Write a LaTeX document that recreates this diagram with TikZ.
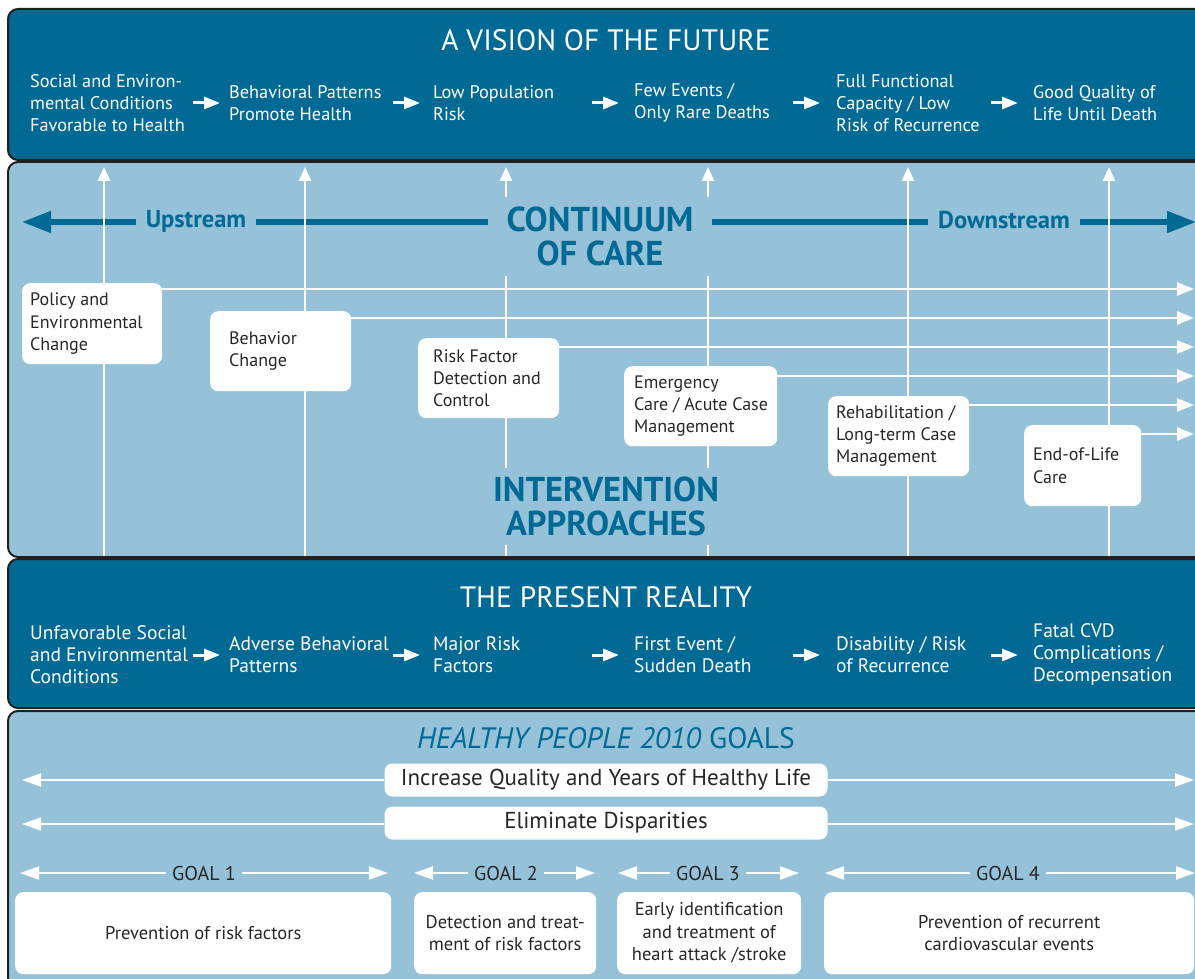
\documentclass[tikz,border=0pt]{standalone}
\usepackage{fontspec}
\setmainfont{PT Sans}
\usetikzlibrary{arrows.meta,positioning}

\definecolor{deepblue}{RGB}{0,105,148}
\definecolor{paleblue}{RGB}{150,194,217}
\definecolor{edgegray}{RGB}{35,31,32}
\definecolor{inkgray}{RGB}{40,38,38}

\tikzset{
  band/.style={draw=edgegray, line width=2pt, rounded corners=10pt},
  flowtxt/.style={anchor=west, inner sep=0pt, align=left, text=white, font=\fontsize{18.3}{22}\selectfont},
  flowarrow/.style={white, line width=3pt, -{Triangle[length=16pt,width=12pt]}},
  bandtitle/.style={text=white, inner sep=0pt, font=\fontsize{29.5}{32}\selectfont},
  riser/.style={white, line width=2.5pt, -{Triangle[length=14pt,width=12pt]}},
  lane/.style={white, line width=2.5pt, -{Triangle[length=17pt,width=13pt]}},
  card/.style={fill=white, rounded corners=8pt, anchor=north west, inner sep=0pt},
  cardtxt/.style={anchor=west, inner sep=0pt, align=left, text=inkgray, font=\fontsize{18}{22.2}\selectfont},
  bigblue/.style={text=deepblue, fill=paleblue, inner sep=0pt, align=center, font=\bfseries\fontsize{34.5}{34}\selectfont},
  streamtxt/.style={text=deepblue, fill=paleblue, inner xsep=10pt, inner ysep=4pt, font=\bfseries\fontsize{24.5}{26}\selectfont},
  goalbar/.style={fill=white, rounded corners=8pt, minimum width=443pt, minimum height=33pt, inner sep=0pt, text=inkgray, font=\fontsize{23}{26}\selectfont},
  goalline/.style={white, line width=2pt, -{Triangle[length=19pt,width=13pt]}},
  goaltag/.style={fill=paleblue, text=inkgray, inner xsep=6pt, inner ysep=2pt, font=\fontsize{20}{22}\selectfont},
  goalbox/.style={fill=white, rounded corners=8pt, anchor=north west, inner sep=0pt, minimum height=82pt, align=center, text=inkgray, font=\fontsize{18.5}{22.5}\selectfont},
}

\begin{document}
\begin{tikzpicture}[x=1pt, y=-1pt]
\useasboundingbox (0,0) rectangle (1195,979);
\clip (0,0) rectangle (1195,979);

% the four bands
\filldraw[band, fill=deepblue] (8,9) rectangle (1225,160);
\filldraw[band, fill=paleblue] (8,162) rectangle (1225,557);
\filldraw[band, fill=deepblue] (8,559) rectangle (1225,708);
\filldraw[band, fill=paleblue] (8,711) rectangle (1225,1010);

% vision of the future
\node[bandtitle] (vision) at (606,40) {A VISION OF THE FUTURE};
\node[flowtxt] (v1) at (30,103) {Social and Environ-\\mental Conditions\\Favorable to Health};
\node[flowtxt] (v2) at (229,103) {Behavioral Patterns\\Promote Health};
\node[flowtxt] (v3) at (433,103) {Low Population\\Risk};
\node[flowtxt] (v4) at (634,103) {Few Events /\\Only Rare Deaths};
\node[flowtxt] (v5) at (836,103) {Full Functional\\Capacity / Low\\Risk of Recurrence};
\node[flowtxt] (v6) at (1033,103) {Good Quality of\\Life Until Death};
\foreach \n/\s in {2/36,3/40,4/42,5/43,6/42}
  \draw[flowarrow] ([xshift=-\s pt]v\n.west) -- ([xshift=-\s pt+27pt]v\n.west);

% continuum of care
\coordinate (up) at (22,222);
\coordinate (down) at (1196,222);
\draw[deepblue, line width=5pt, {Triangle[length=29pt,width=21pt]}-{Triangle[length=29pt,width=21pt]}] (up) -- (down);

\foreach \x [count=\i] in {104,305,506,708,908,1109} {
  \coordinate (base\i) at (\x,556);
  \coordinate (peak\i) at (\x,167);
  \draw[riser] (base\i) -- (peak\i);
}

% intervention boxes
\node[card, minimum width=140pt, minimum height=81pt] (pol) at (22,283) {};
\node[card, minimum width=141pt, minimum height=80pt] (beh) at (210,311) {};
\node[card, minimum width=141pt, minimum height=80pt] (rfd) at (418,338) {};
\node[card, minimum width=153pt, minimum height=80pt] (emc) at (624,366) {};
\node[card, minimum width=141pt, minimum height=80pt] (reh) at (828,396) {};
\node[card, minimum width=117pt, minimum height=81pt] (eol) at (1024,425) {};
\node[cardtxt] (pol-t) at ([xshift=8pt]pol.west) {Policy and\\Environmental\\Change};
\node[cardtxt] (beh-t) at ([xshift=19pt]beh.west) {Behavior\\Change};
\node[cardtxt] (rfd-t) at ([xshift=15pt]rfd.west) {Risk Factor\\Detection and\\Control};
\node[cardtxt] (emc-t) at ([xshift=10pt]emc.west) {Emergency\\Care / Acute Case\\Management};
\node[cardtxt] (reh-t) at ([xshift=8pt]reh.west) {Rehabilitation /\\Long-term Case\\Management};
\node[cardtxt] (eol-t) at ([xshift=9pt]eol.west) {End-of-Life\\Care};

\foreach \n/\y in {pol/289,beh/318,rfd/347,emc/376,reh/405,eol/434} {
  \coordinate (out-\n) at (1194,\y);
  \draw[lane] (\n.east |- out-\n) -- (out-\n);
}

\node[bigblue, minimum width=224pt, minimum height=79pt] (coc) at (600,236.5) {CONTINUUM\\OF CARE};
\node[streamtxt] (ups) at (196,221) {Upstream};
\node[streamtxt] (dns) at (1004,220) {Downstream};
\node[bigblue, minimum width=244pt, minimum height=77pt] (iva) at (606,506) {INTERVENTION\\APPROACHES};

% present reality
\node[bandtitle] (present) at (606,597) {THE PRESENT REALITY};
\node[flowtxt, font=\fontsize{19.5}{22}\selectfont] (p1) at (30,655) {Unfavorable Social\\and Environmental\\Conditions};
\node[flowtxt, font=\fontsize{19.5}{22}\selectfont] (p2) at (229,655) {Adverse Behavioral\\Patterns};
\node[flowtxt, font=\fontsize{19.5}{22}\selectfont] (p3) at (433,655) {Major Risk\\Factors};
\node[flowtxt, font=\fontsize{19.5}{22}\selectfont] (p4) at (634,655) {First Event /\\Sudden Death};
\node[flowtxt, font=\fontsize{19.5}{22}\selectfont] (p5) at (836,655) {Disability / Risk\\of Recurrence};
\node[flowtxt, font=\fontsize{19.5}{22}\selectfont] (p6) at (1033,655) {Fatal CVD\\Complications /\\Decompensation};
\foreach \n/\s in {2/36,3/40,4/42,5/43,6/42}
  \draw[flowarrow] ([xshift=-\s pt]p\n.west) -- ([xshift=-\s pt+27pt]p\n.west);

% healthy people 2010 goals
\node[bandtitle, text=deepblue] (hp) at (606,738) {\textit{HEALTHY PEOPLE 2010} GOALS};
\node[goalbar] (qual) at (606,780) {Increase Quality and Years of Healthy Life};
\node[goalbar] (disp) at (606,823) {Eliminate Disparities};
\foreach \n/\y in {qual/780,disp/824} {
  \coordinate (\n-l) at (22,\y);
  \coordinate (\n-r) at (1194,\y);
  \draw[goalline] (\n.west |- \n-l) -- (\n-l);
  \draw[goalline] (\n.east |- \n-r) -- (\n-r);
}

\foreach \n/\x/\a/\b in {1/204/20/388,2/506/414/595,3/708/618/799,4/1008/825/1195} {
  \node[goaltag] (goal\n) at (\x,873) {GOAL \n};
  \coordinate (gl\n) at (\a,873);
  \coordinate (gr\n) at (\b,873);
  \draw[goalline] (goal\n.west) -- (gl\n);
  \draw[goalline] (goal\n.east) -- (gr\n);
}

\node[goalbox, minimum width=376pt] (b1) at (15,892) {Prevention of risk factors};
\node[goalbox, minimum width=182pt] (b2) at (414,892) {Detection and treat-\\ment of risk factors};
\node[goalbox, minimum width=184pt] (b3) at (617,892) {Early identification\\and treatment of\\heart attack /stroke};
\node[goalbox, minimum width=370pt] (b4) at (824,892) {Prevention of recurrent\\cardiovascular events};
\end{tikzpicture}
\end{document}
